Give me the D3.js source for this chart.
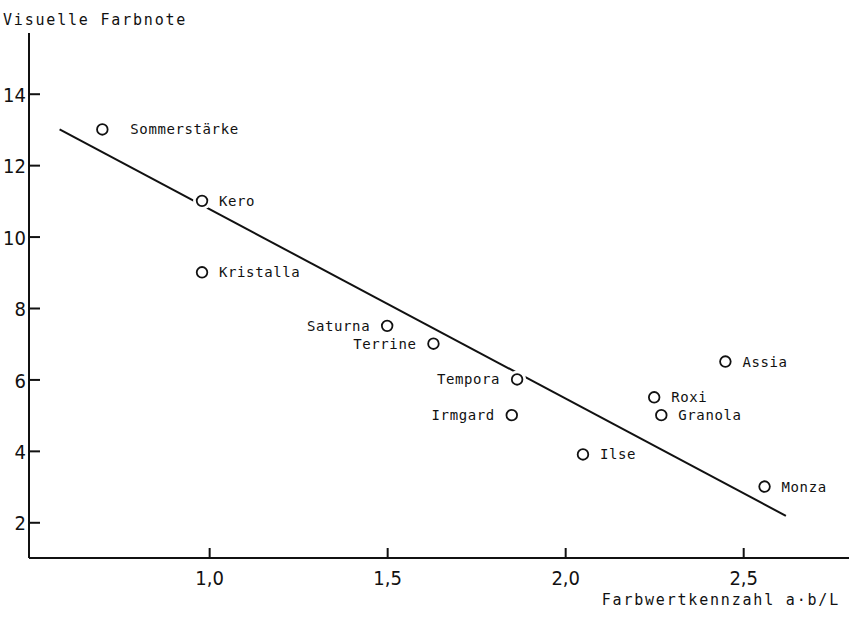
<!DOCTYPE html>
<html>
<head>
<meta charset="utf-8">
<script src="https://cdn.jsdelivr.net/npm/d3@7"></script>
<style>
  body { margin: 0; background: #fff; }
  svg { display: block; }
  .lbl { font-family: "DejaVu Sans Mono", monospace; font-size: 14px; letter-spacing: 0.6px; fill: #111; }
  .title { font-family: "DejaVu Sans Mono", monospace; font-size: 15px; letter-spacing: 1.8px; fill: #111; }
  .tick text { font-family: "Liberation Sans Narrow", "DejaVu Sans Condensed", sans-serif; fill: #111; }
</style>
</head>
<body>
<main></main>
<script>

// data
const varieties = ["Sommerstärke", "Kero", "Kristalla", "Saturna", "Terrine", "Tempora", "Irmgard", "Ilse", "Roxi", "Granola", "Assia", "Monza"];
const farbwert = [0.70, 0.98, 0.98, 1.50, 1.63, 1.865, 1.85, 2.05, 2.25, 2.27, 2.45, 2.56];
const farbnote = [13, 11, 9, 7.5, 7, 6, 5, 3.9, 5.5, 5, 6.5, 3];
const regLine = [[0.58, 13.0], [2.62, 2.18]];
const xTicks = [1.0, 1.5, 2.0, 2.5];
const yTicks = [2, 4, 6, 8, 10, 12, 14];

// label placement (left or right of the circle)
const labelSide = ["r", "r", "r", "l", "l", "l", "l", "r", "r", "r", "r", "r"];

const width = 849;
const height = 619;

const svg = d3.select("main").append("svg")
	.attr("width", width)
	.attr("height", height);

const x = d3.scaleLinear().domain([0.494, 2.8]).range([29, 850]);
const y = d3.scaleLinear().domain([1, 15.7]).range([558, 33]);

// axes
svg.append("line")
	.attr("x1", x(0.494)).attr("x2", x(2.8))
	.attr("y1", y(1)).attr("y2", y(1))
	.attr("stroke", "#111").attr("stroke-width", 2);
svg.append("line")
	.attr("x1", x(0.494)).attr("x2", x(0.494))
	.attr("y1", y(1)).attr("y2", y(15.7))
	.attr("stroke", "#111").attr("stroke-width", 2);

const xAxis = svg.append("g")
	.attr("transform", `translate(0,${y(1)})`)
	.call(d3.axisTop(x).tickValues(xTicks).tickSize(10).tickFormat(d => d3.format(".1f")(d).replace(".", ",")));
xAxis.select(".domain").remove();
xAxis.selectAll(".tick line").attr("stroke", "#111").attr("stroke-width", 2);
xAxis.selectAll(".tick text")
	.attr("y", 27)
	.attr("dy", 0)
	.style("font-size", "20px");

const yAxis = svg.append("g")
	.attr("transform", `translate(${x(0.494)},0)`)
	.call(d3.axisRight(y).tickValues(yTicks).tickSize(11));
yAxis.select(".domain").remove();
yAxis.selectAll(".tick line").attr("stroke", "#111").attr("stroke-width", 2);
yAxis.selectAll(".tick text")
	.attr("x", -3)
	.attr("text-anchor", "end")
	.attr("dy", "0.38em")
	.style("font-size", "20px");

// regression line
svg.append("path")
	.attr("d", d3.line().x(d => x(d[0])).y(d => y(d[1]))(regLine))
	.attr("fill", "none")
	.attr("stroke", "#111")
	.attr("stroke-width", 2);

// points
const pts = svg.selectAll("g.pt")
	.data(varieties.map((v, i) => ({ name: v, fx: farbwert[i], fy: farbnote[i], side: labelSide[i] })))
	.join("g")
	.attr("class", "pt")
	.attr("transform", d => `translate(${x(d.fx)},${y(d.fy)})`);

pts.append("circle").attr("r", 9).attr("fill", "#fff");
pts.append("circle")
	.attr("r", 5.3)
	.attr("fill", "#fff")
	.attr("stroke", "#111")
	.attr("stroke-width", 1.8);

pts.append("text")
	.attr("class", "lbl")
	.attr("x", d => d.side === "r" ? (d.name === "Sommerstärke" ? 28 : 17) : -17)
	.attr("y", 5)
	.attr("text-anchor", d => d.side === "r" ? "start" : "end")
	.text(d => d.name);

// axis titles
svg.append("text")
	.attr("class", "title")
	.attr("x", 3)
	.attr("y", 25)
	.text("Visuelle Farbnote");

svg.append("text")
	.attr("class", "title")
	.attr("x", 840)
	.attr("y", 605)
	.attr("text-anchor", "end")
	.text("Farbwertkennzahl a·b/L");

</script>
</body>
</html>
